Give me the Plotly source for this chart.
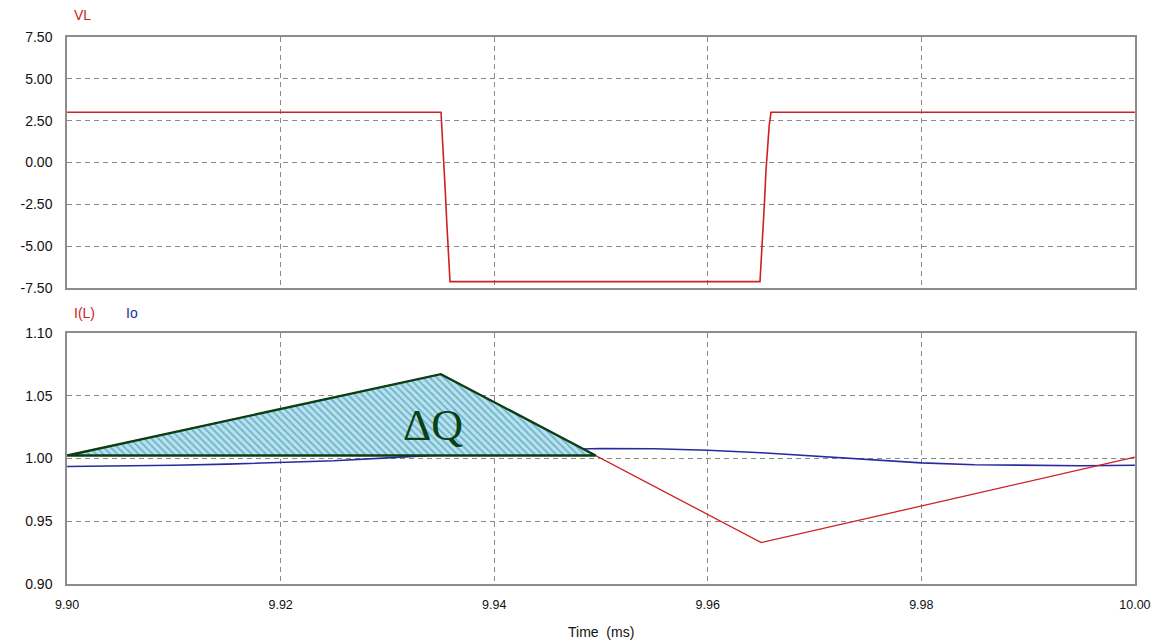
import plotly.graph_objects as go
from plotly.subplots import make_subplots

# Inductor voltage VL (V) vs time (ms)
vl_t = [9.900, 9.93502, 9.93510, 9.93525, 9.93540, 9.93555, 9.93570, 9.93586, 9.96489,
        9.96500, 9.96515, 9.96530, 9.96545, 9.96560, 9.96575, 9.96592, 10.000]
vl_v = [3.0, 3.0, 2.0, 0.5, -1.5, -3.5, -5.5, -7.12, -7.12,
        -6.0, -4.5, -2.5, -0.5, 1.0, 2.2, 3.0, 3.0]

# Inductor current I(L) (A)
il_t = [9.900, 9.935, 9.965, 10.000]
il_v = [1.0024, 1.0672, 0.9330, 1.0010]

# Output current Io (A)
io_t = [9.900, 9.905, 9.910, 9.915, 9.920, 9.925, 9.930, 9.935, 9.940, 9.945, 9.950,
        9.955, 9.960, 9.965, 9.970, 9.975, 9.980, 9.985, 9.990, 9.995, 10.000]
io_v = [0.9936, 0.9938, 0.9946, 0.9955, 0.9968, 0.9982, 1.0005, 1.0030, 1.0052, 1.0070, 1.0080,
        1.0078, 1.0066, 1.0046, 1.0020, 0.9990, 0.9965, 0.9950, 0.9944, 0.9942, 0.9946]

# Charge triangle ΔQ above the mean current
dq_t = [9.900, 9.935, 9.9495, 9.900]
dq_v = [1.0024, 1.0672, 1.0024, 1.0024]

x_ticks = [9.90, 9.92, 9.94, 9.96, 9.98, 10.00]
vl_ticks = [7.5, 5.0, 2.5, 0.0, -2.5, -5.0, -7.5]
il_ticks = [1.10, 1.05, 1.00, 0.95, 0.90]

RED = "#cc2222"
BLUE = "#2a2aa0"
GRID = "#8a8a8a"
FRAME = "#8c8c8c"
TICKFONT = dict(family="Liberation Sans", size=14, color="#111111")
XTICKFONT = dict(family="Liberation Sans", size=12.5, color="#111111")
LABELFONT = "Liberation Sans"

fig = make_subplots(rows=2, cols=1, shared_xaxes=False, vertical_spacing=0.0)

fig.add_trace(go.Scatter(x=vl_t, y=vl_v, mode="lines", line=dict(color=RED, width=1.6),
                         hoverinfo="skip", showlegend=False), row=1, col=1)
fig.add_trace(go.Scatter(x=io_t, y=io_v, mode="lines", line=dict(color=BLUE, width=1.6),
                         hoverinfo="skip", showlegend=False), row=2, col=1)
fig.add_trace(go.Scatter(x=il_t, y=il_v, mode="lines", line=dict(color=RED, width=1.3),
                         hoverinfo="skip", showlegend=False), row=2, col=1)
fig.add_trace(go.Scatter(x=dq_t, y=dq_v, mode="lines", fill="toself",
                         fillcolor="#b3dfec",
                         fillpattern=dict(shape="\\", bgcolor="#b9e2ee", fgcolor="#6fb4cc",
                                          size=5, solidity=0.35, fillmode="replace"),
                         line=dict(color="#0d3d12", width=2.4),
                         hoverinfo="skip", showlegend=False), row=2, col=1)

axis_common = dict(showline=True, linecolor=FRAME, linewidth=1.5, mirror=True,
                   showgrid=True, gridcolor=GRID, griddash="5px,4px", gridwidth=1,
                   zeroline=False, ticks="", automargin=False)

X_RANGE = [9.89999, 10.00001]
fig.update_xaxes(range=X_RANGE, tickvals=x_ticks, showticklabels=False,
                 **axis_common, row=1, col=1)
fig.update_xaxes(range=X_RANGE, tickvals=x_ticks, ticklabeloverflow="allow", tickfont=XTICKFONT,
                 ticktext=[f"{v:.2f}" for v in x_ticks], **axis_common, row=2, col=1)
fig.update_yaxes(range=[-7.5, 7.5], tickvals=vl_ticks, tickfont=TICKFONT,
                 ticktext=[f"{v:.2f}" for v in vl_ticks], **axis_common, row=1, col=1)
fig.update_yaxes(range=[0.90, 1.10], tickvals=il_ticks, tickfont=TICKFONT,
                 ticktext=[f"{v:.2f}" for v in il_ticks], **axis_common, row=2, col=1)

fig.layout.yaxis.domain = [0.5411, 1.0]
fig.layout.yaxis2.domain = [0.0, 0.4589]
fig.layout.xaxis2.ticklabelstandoff = 8
fig.layout.yaxis.ticklabelstandoff = 10
fig.layout.yaxis2.ticklabelstandoff = 10

annotations = [
    dict(text="VL", x=0.005, y=1.0, xref="paper", yref="paper", xanchor="left", yanchor="bottom",
         yshift=12, showarrow=False, font=dict(family=LABELFONT, size=14, color=RED)),
    dict(text="I(L)", x=0.005, y=0.4589, xref="paper", yref="paper", xanchor="left", yanchor="bottom",
         yshift=10, showarrow=False, font=dict(family=LABELFONT, size=14, color=RED)),
    dict(text="Io", x=0.053, y=0.4589, xref="paper", yref="paper", xanchor="left", yanchor="bottom",
         yshift=10, showarrow=False, font=dict(family=LABELFONT, size=14, color=BLUE)),
    dict(text="Time  (ms)", x=0.5, y=0.0, xref="paper", yref="paper", xanchor="center", yanchor="top",
         yshift=-38, showarrow=False, font=dict(family=LABELFONT, size=14, color="#111111")),
    dict(text="ΔQ", x=9.9343, y=1.0265, xref="x2", yref="y2", xanchor="center", yanchor="middle",
         showarrow=False, font=dict(family="Liberation Serif", size=44, color="#0b3f14")),
]
fig.update_layout(
    width=1151, height=641,
    margin=dict(l=67, r=16, t=37, b=57),
    paper_bgcolor="white", plot_bgcolor="white",
    annotations=annotations,
)

fig.write_html("out.html")
